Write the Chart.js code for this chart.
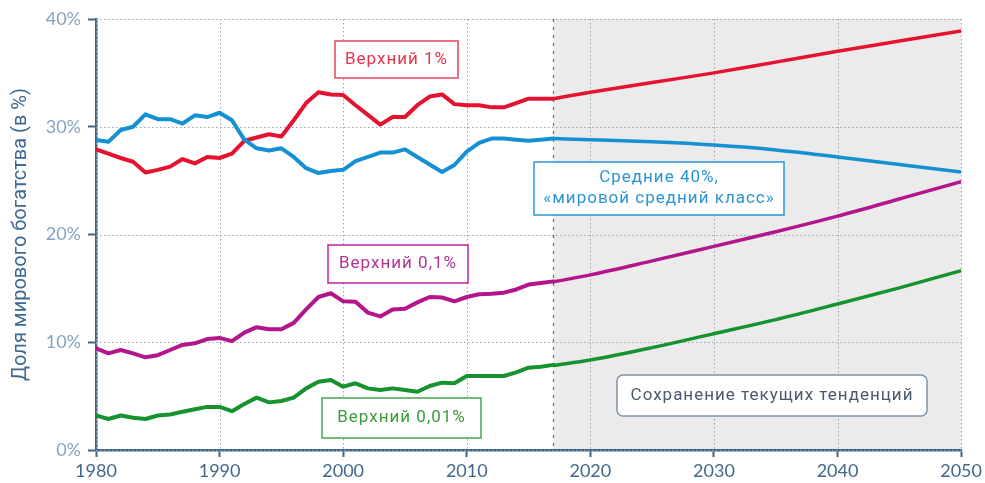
<!DOCTYPE html>
<html>
<head>
<meta charset="utf-8">
<script src="https://cdn.jsdelivr.net/npm/chart.js@4.4.1/dist/chart.umd.min.js"></script>
<style>
  html, body { margin: 0; padding: 0; background: #fff; }
</style>
</head>
<body>
<canvas id="myChart" width="985" height="483"></canvas>
<script>
// годы наблюдений
const histYears = [1980, 1981, 1982, 1983, 1984, 1985, 1986, 1987, 1988, 1989,
                   1990, 1991, 1992, 1993, 1994, 1995, 1996, 1997, 1998, 1999,
                   2000, 2001, 2002, 2003, 2004, 2005, 2006, 2007, 2008, 2009,
                   2010, 2011, 2012, 2013, 2014, 2015, 2016, 2017];
// годы прогноза
const projYears = [2017, 2020, 2025, 2030, 2035, 2040, 2045, 2050];

const top1Hist = [27.9, 27.5, 27.1, 26.75, 25.75, 26.0, 26.3, 27.0, 26.6, 27.2,
                  27.1, 27.5, 28.7, 29.0, 29.3, 29.1, 30.6, 32.2, 33.2, 33.0,
                  32.95, 32.0, 31.1, 30.2, 30.9, 30.9, 32.0, 32.8, 33.0, 32.1,
                  32.0, 32.0, 31.8, 31.8, 32.2, 32.6, 32.6, 32.6];
const mid40Hist = [28.77, 28.6, 29.7, 30.0, 31.15, 30.7, 30.7, 30.3, 31.06, 30.9,
                   31.3, 30.6, 28.8, 28.0, 27.8, 28.0, 27.2, 26.15, 25.7, 25.9,
                   26.0, 26.8, 27.2, 27.6, 27.6, 27.9, 27.2, 26.5, 25.8, 26.45,
                   27.7, 28.5, 28.9, 28.9, 28.8, 28.7, 28.8, 28.9];
const top01Hist = [9.43, 8.97, 9.28, 8.97, 8.6, 8.8, 9.28, 9.75, 9.9, 10.3,
                   10.4, 10.1, 10.9, 11.4, 11.2, 11.2, 11.8, 13.05, 14.2, 14.55,
                   13.8, 13.75, 12.75, 12.4, 13.05, 13.1, 13.7, 14.2, 14.15, 13.8,
                   14.2, 14.45, 14.5, 14.6, 14.9, 15.35, 15.5, 15.65];
const top001Hist = [3.2, 2.88, 3.2, 3.0, 2.88, 3.2, 3.3, 3.55, 3.78, 4.0,
                    4.0, 3.6, 4.27, 4.86, 4.42, 4.55, 4.86, 5.72, 6.34, 6.5,
                    5.88, 6.19, 5.72, 5.57, 5.72, 5.57, 5.41, 5.94, 6.25, 6.19,
                    6.87, 6.87, 6.87, 6.87, 7.2, 7.64, 7.73, 7.9];

const top1Proj = [32.6, 33.2, 34.1, 35.0, 36.0, 37.0, 37.95, 38.9];
const mid40Proj = [28.9, 28.8, 28.6, 28.3, 27.85, 27.2, 26.5, 25.8];
const top01Proj = [15.6, 16.25, 17.55, 18.9, 20.25, 21.7, 23.3, 24.9];
const top001Proj = [7.85, 8.35, 9.5, 10.8, 12.1, 13.55, 15.05, 16.65];

const yTicks = [0, 10, 20, 30, 40];
const xTicks = [1980, 1990, 2000, 2010, 2020, 2030, 2040, 2050];
const splitYear = 2017;

const RED = '#e5132f', BLUE = '#1590d2', MAGENTA = '#b3158c', GREEN = '#16922e';

const pts = (xs, ys) => xs.map((x, i) => ({ x: x, y: ys[i] }));

const hist = (data, color) => ({
    data: data, borderColor: color, borderWidth: 4, pointRadius: 0,
    tension: 0, borderJoinStyle: 'round', borderCapStyle: 'round', fill: false
});
const proj = (data, color) => ({
    data: data, borderColor: color, borderWidth: 3.5, pointRadius: 0,
    cubicInterpolationMode: 'monotone', borderCapStyle: 'round', fill: false
});

// подписи в рамках
const notes = [
    { lines: ['Верхний 1%'], box: [335, 41, 458, 78], color: '#e8334f', stroke: '#e8445a' },
    { lines: ['Средние 40%,', '«мировой средний класс»'], box: [534, 162, 784, 215], color: '#2b95d3', stroke: '#2a95d3' },
    { lines: ['Верхний 0,1%'], box: [328, 245, 468, 283], color: '#b3348f', stroke: '#c2249a' },
    { lines: ['Верхний 0,01%'], box: [322, 398, 481, 438], color: '#3c9a3c', stroke: '#45a550' },
    { lines: ['Сохранение текущих тенденций'], box: [617, 375, 927, 416], color: '#4b5a6a', stroke: '#8193a6', round: 6 }
];

const backdrop = {
    id: 'backdrop',
    beforeDraw(chart) {
        const { ctx, chartArea, scales: { x } } = chart;
        const xs = x.getPixelForValue(splitYear);
        ctx.save();
        ctx.fillStyle = '#ebebeb';
        ctx.fillRect(xs, chartArea.top, chartArea.right - xs, chartArea.bottom - chartArea.top);
        ctx.restore();
    },
    beforeDatasetsDraw(chart) {
        const { ctx, chartArea, scales: { x, y } } = chart;
        ctx.save();
        // точечная сетка
        ctx.strokeStyle = '#9aa4ae';
        ctx.lineWidth = 1;
        ctx.setLineDash([1.5, 2.5]);
        ctx.beginPath();
        yTicks.forEach(v => {
            const py = Math.round(y.getPixelForValue(v)) + 0.5;
            ctx.moveTo(chartArea.left, py);
            ctx.lineTo(chartArea.right, py);
        });
        xTicks.forEach(v => {
            const px = Math.round(x.getPixelForValue(v)) + 0.5;
            ctx.moveTo(px, chartArea.top);
            ctx.lineTo(px, chartArea.bottom);
        });
        ctx.stroke();
        // граница прогноза
        const xs = Math.round(x.getPixelForValue(splitYear)) + 0.5;
        ctx.strokeStyle = '#6f6f6f';
        ctx.lineWidth = 1.2;
        ctx.setLineDash([3, 5]);
        ctx.beginPath();
        ctx.moveTo(xs, chartArea.top);
        ctx.lineTo(xs, chartArea.bottom);
        ctx.stroke();
        ctx.restore();
    },
    afterDatasetsDraw(chart) {
        const ctx = chart.ctx;
        ctx.save();
        notes.forEach(n => {
            const [x1, y1, x2, y2] = n.box;
            ctx.beginPath();
            if (n.round) ctx.roundRect(x1, y1, x2 - x1, y2 - y1, n.round);
            else ctx.rect(x1, y1, x2 - x1, y2 - y1);
            ctx.fillStyle = '#ffffff';
            ctx.fill();
            ctx.lineWidth = 1.5;
            ctx.strokeStyle = n.stroke;
            ctx.stroke();
            ctx.fillStyle = n.color;
            ctx.font = '17px Roboto';
            ctx.letterSpacing = '1px';
            ctx.textAlign = 'center';
            ctx.textBaseline = 'middle';
            const cx = (x1 + x2) / 2, cy = (y1 + y2) / 2;
            const lh = 21;
            n.lines.forEach((t, i) => {
                ctx.fillText(t, cx, cy + (i - (n.lines.length - 1) / 2) * lh);
            });
        });
        ctx.restore();
    }
};

const gridOpts = (len) => ({
    drawOnChartArea: false, tickLength: len,
    tickColor: '#3d6585', tickWidth: 2, tickBorderDash: []
});

new Chart(document.getElementById('myChart'), {
    type: 'line',
    data: {
        datasets: [
            hist(pts(histYears, top001Hist), GREEN),
            proj(pts(projYears, top001Proj), GREEN),
            hist(pts(histYears, top01Hist), MAGENTA),
            proj(pts(projYears, top01Proj), MAGENTA),
            hist(pts(histYears, mid40Hist), BLUE),
            proj(pts(projYears, mid40Proj), BLUE),
            hist(pts(histYears, top1Hist), RED),
            proj(pts(projYears, top1Proj), RED)
        ]
    },
    options: {
        responsive: false,
        animation: false,
        events: [],
        layout: { padding: { left: 0, right: 23, top: 19, bottom: 0 } },
        plugins: { legend: { display: false }, tooltip: { enabled: false } },
        scales: {
            x: {
                type: 'linear', min: 1980, max: 2050,
                afterBuildTicks: s => { s.ticks = xTicks.map(v => ({ value: v })); },
                afterFit: s => { s.height = 33; },
                ticks: {
                    callback: v => String(v), color: '#43688c', padding: 3,
                    font: { family: 'Lato', size: 18 }, maxRotation: 0
                },
                grid: gridOpts(7),
                border: { display: true, color: '#3d6585', width: 2.5 }
            },
            y: {
                min: 0, max: 40,
                afterBuildTicks: s => { s.ticks = yTicks.map(v => ({ value: v })); },
                afterFit: s => { s.width = 96; },
                ticks: {
                    callback: v => v + '%', color: '#86a4c0', padding: 7,
                    font: { family: 'Lato', size: 18 }
                },
                title: {
                    display: true, text: 'Доля мирового богатства (в %)',
                    color: '#3f6990', font: { family: 'Roboto', size: 20 },
                    padding: { top: 9, bottom: 0 }
                },
                grid: gridOpts(8),
                border: { display: true, color: '#3d6585', width: 2.5 }
            }
        }
    },
    plugins: [backdrop]
});
</script>
</body>
</html>
